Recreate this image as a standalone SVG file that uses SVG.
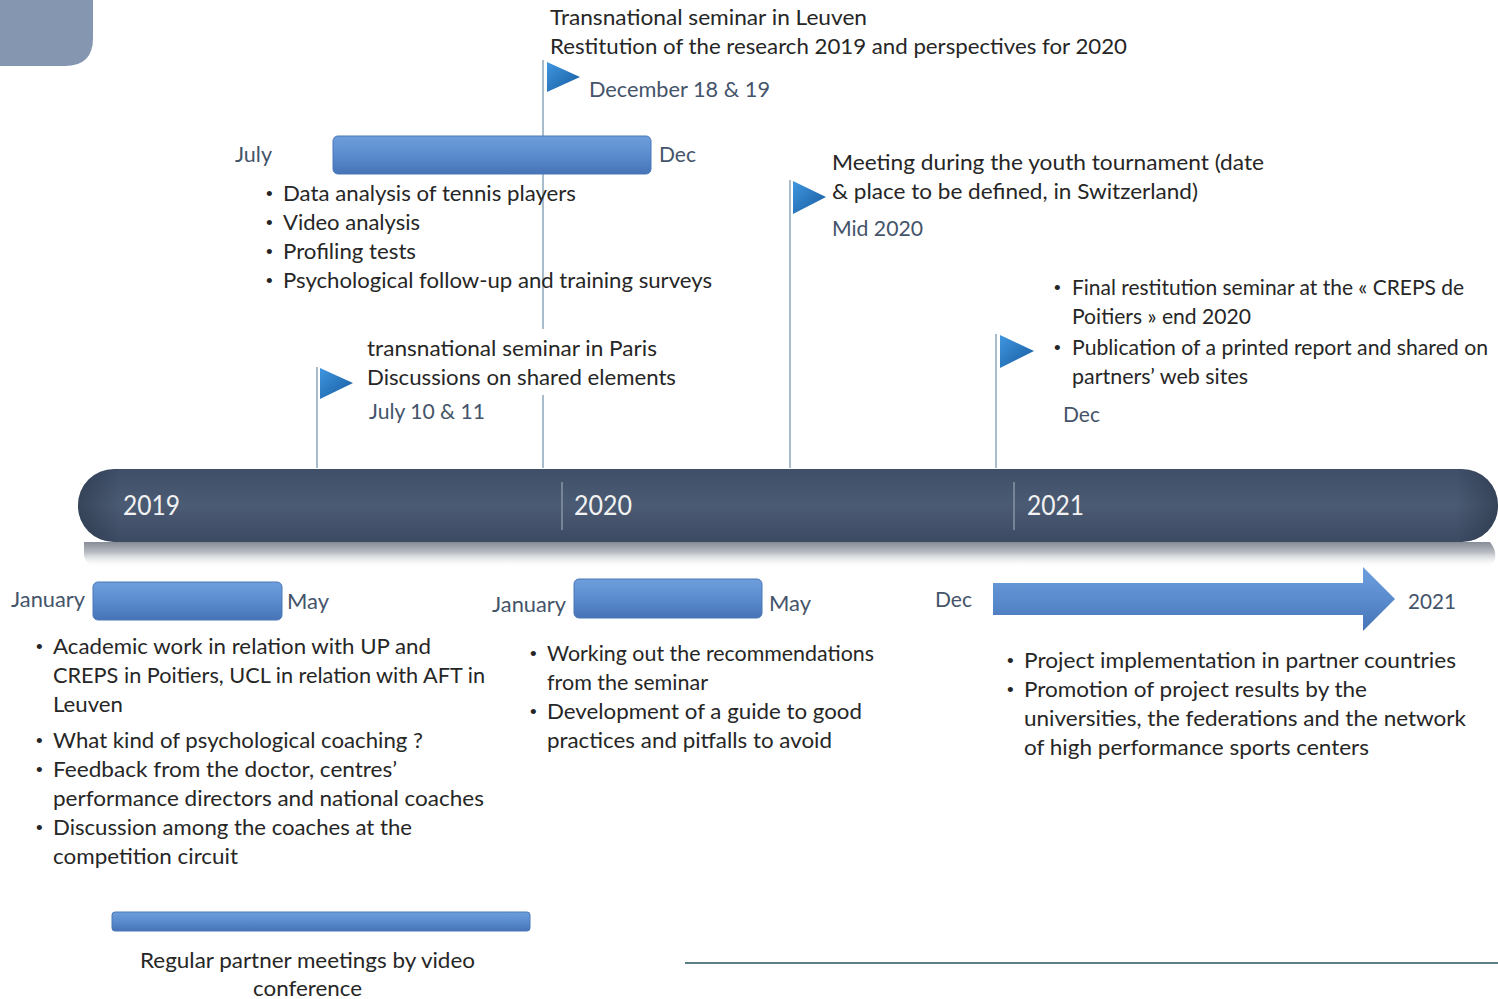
<svg xmlns="http://www.w3.org/2000/svg" width="1498" height="999" viewBox="0 0 1498 999">
<defs>
<linearGradient id="gBar" x1="0" y1="0" x2="0" y2="1">
<stop offset="0" stop-color="#6e9edb"/>
<stop offset="0.5" stop-color="#5a8cce"/>
<stop offset="1" stop-color="#4673b6"/>
</linearGradient>
<linearGradient id="gBand" x1="0" y1="0" x2="0" y2="1">
<stop offset="0" stop-color="#3f4f68"/>
<stop offset="0.5" stop-color="#4b5b73"/>
<stop offset="1" stop-color="#3c4a62"/>
</linearGradient>
<linearGradient id="gBandH" x1="0" y1="0" x2="1" y2="0">
<stop offset="0" stop-color="#1e2a3c" stop-opacity="0.45"/>
<stop offset="0.03" stop-color="#1e2a3c" stop-opacity="0"/>
<stop offset="0.97" stop-color="#1e2a3c" stop-opacity="0"/>
<stop offset="1" stop-color="#1e2a3c" stop-opacity="0.45"/>
</linearGradient>
<linearGradient id="gRefl" x1="0" y1="0" x2="0" y2="1">
<stop offset="0" stop-color="#868c96"/>
<stop offset="0.4" stop-color="#b9bdc3"/>
<stop offset="1" stop-color="#ffffff" stop-opacity="0"/>
</linearGradient>
<linearGradient id="gFlag" x1="0" y1="0" x2="1" y2="1">
<stop offset="0" stop-color="#3f97e0"/>
<stop offset="1" stop-color="#175a9e"/>
</linearGradient>
<style>
.t{font-family:Lato,"Open Sans","Liberation Sans",sans-serif;font-size:21.5px;fill:#262626}
.b{font-family:"Liberation Sans",sans-serif;font-size:19px;fill:#262626}
.d{font-family:Lato,"Open Sans","Liberation Sans",sans-serif;font-size:21.5px;fill:#44546a}
.y{font-family:Lato,"Open Sans","Liberation Sans",sans-serif;font-size:26px;fill:#f2f2f2}
.pole{stroke:#a9bccb;stroke-width:2;fill:none}
.flag{fill:url(#gFlag)}
.bar{fill:url(#gBar);stroke:#4a78b8;stroke-width:1}
.div{stroke:#8894a6;stroke-width:1.5}
</style>
</defs>
<rect width="1498" height="999" fill="#ffffff"/>
<path d="M0 0 H93 V38 Q93 66 65 66 H0 Z" fill="#8496b0"/>

<g id="timeline">
<path d="M84 542 H1490 Q1498 552 1494 562 Q1490 568 1480 568 H100 Q88 568 84 556 Z" fill="url(#gRefl)"/>
<rect x="78" y="469" width="1420" height="73" rx="36" fill="url(#gBand)"/>
<rect x="78" y="469" width="1420" height="73" rx="36" fill="url(#gBandH)"/>
<line class="div" x1="562" y1="482" x2="562" y2="530"/>
<line class="div" x1="1014" y1="482" x2="1014" y2="530"/>
<text class="y" x="123" y="515" textLength="57" lengthAdjust="spacingAndGlyphs">2019</text>
<text class="y" x="574" y="515" textLength="58" lengthAdjust="spacingAndGlyphs">2020</text>
<text class="y" x="1027" y="515" textLength="57" lengthAdjust="spacingAndGlyphs">2021</text>
</g>

<g id="connectors">
<line class="pole" x1="543" y1="60" x2="543" y2="468"/>
<line class="pole" x1="317" y1="367" x2="317" y2="468"/>
<line class="pole" x1="790" y1="180" x2="790" y2="468"/>
<line class="pole" x1="996" y1="334" x2="996" y2="468"/>
</g>

<g id="leuven-seminar">
<polygon class="flag" points="547,62 580,77 547,92"/>
<text class="t" x="550" y="25" textLength="317" lengthAdjust="spacingAndGlyphs">Transnational seminar in Leuven</text>
<text class="t" x="550" y="54" textLength="577" lengthAdjust="spacingAndGlyphs">Restitution of the research 2019 and perspectives for 2020</text>
<text class="d" x="589" y="97" textLength="181" lengthAdjust="spacingAndGlyphs">December 18 &amp; 19</text>
</g>

<g id="july-dec-2019">
<rect class="bar" x="333" y="136" width="318" height="38" rx="5"/>
<text class="d" x="235" y="162" textLength="37" lengthAdjust="spacingAndGlyphs">July</text>
<text class="d" x="659" y="162" textLength="37" lengthAdjust="spacingAndGlyphs">Dec</text>
<text class="b" x="266" y="200">•</text>
<text class="t" x="283" y="201" textLength="293" lengthAdjust="spacingAndGlyphs">Data analysis of tennis players</text>
<text class="b" x="266" y="229">•</text>
<text class="t" x="283" y="230" textLength="137" lengthAdjust="spacingAndGlyphs">Video analysis</text>
<text class="b" x="266" y="258">•</text>
<text class="t" x="283" y="259" textLength="133" lengthAdjust="spacingAndGlyphs">Profiling tests</text>
<text class="b" x="266" y="287">•</text>
<text class="t" x="283" y="288" textLength="429" lengthAdjust="spacingAndGlyphs">Psychological follow-up and training surveys</text>
</g>

<g id="paris-seminar">
<rect x="360" y="329" width="322" height="66" fill="#ffffff"/>
<polygon class="flag" points="320,368 353,383 320,399"/>
<text class="t" x="367" y="356" textLength="290" lengthAdjust="spacingAndGlyphs">transnational seminar in Paris</text>
<text class="t" x="367" y="385" textLength="309" lengthAdjust="spacingAndGlyphs">Discussions on shared elements</text>
<text class="d" x="369" y="419" textLength="116" lengthAdjust="spacingAndGlyphs">July 10 &amp; 11</text>
</g>

<g id="youth-tournament">
<polygon class="flag" points="793,181 826,197 793,214"/>
<text class="t" x="832" y="170" textLength="432" lengthAdjust="spacingAndGlyphs">Meeting during the youth tournament (date</text>
<text class="t" x="832" y="199" textLength="366" lengthAdjust="spacingAndGlyphs">&amp; place to be defined, in Switzerland)</text>
<text class="d" x="832" y="236" textLength="91" lengthAdjust="spacingAndGlyphs">Mid 2020</text>
</g>

<g id="final-seminar">
<polygon class="flag" points="1000,335 1034,351 1000,368"/>
<text class="b" x="1054" y="294">•</text>
<text class="t" x="1072" y="295" textLength="392" lengthAdjust="spacingAndGlyphs">Final restitution seminar at the « CREPS de</text>
<text class="t" x="1072" y="324" textLength="179" lengthAdjust="spacingAndGlyphs">Poitiers » end 2020</text>
<text class="b" x="1054" y="354">•</text>
<text class="t" x="1072" y="355" textLength="416" lengthAdjust="spacingAndGlyphs">Publication of a printed report and shared on</text>
<text class="t" x="1072" y="384" textLength="176" lengthAdjust="spacingAndGlyphs">partners’ web sites</text>
<text class="d" x="1063" y="422" textLength="37" lengthAdjust="spacingAndGlyphs">Dec</text>
</g>

<g id="jan-may-2019">
<rect class="bar" x="93" y="582" width="189" height="38" rx="5"/>
<text class="d" x="11" y="607" textLength="74" lengthAdjust="spacingAndGlyphs">January</text>
<text class="d" x="287" y="609" textLength="42" lengthAdjust="spacingAndGlyphs">May</text>
<text class="b" x="36" y="653">•</text>
<text class="t" x="53" y="654" textLength="378" lengthAdjust="spacingAndGlyphs">Academic work in relation with UP and</text>
<text class="t" x="53" y="683" textLength="432" lengthAdjust="spacingAndGlyphs">CREPS in Poitiers, UCL in relation with AFT in</text>
<text class="t" x="53" y="712" textLength="70" lengthAdjust="spacingAndGlyphs">Leuven</text>
<text class="b" x="36" y="747">•</text>
<text class="t" x="53" y="748" textLength="370" lengthAdjust="spacingAndGlyphs">What kind of psychological coaching ?</text>
<text class="b" x="36" y="776">•</text>
<text class="t" x="53" y="777" textLength="344" lengthAdjust="spacingAndGlyphs">Feedback from the doctor, centres’</text>
<text class="t" x="53" y="806" textLength="431" lengthAdjust="spacingAndGlyphs">performance directors and national coaches</text>
<text class="b" x="36" y="834">•</text>
<text class="t" x="53" y="835" textLength="359" lengthAdjust="spacingAndGlyphs">Discussion among the coaches at the</text>
<text class="t" x="53" y="864" textLength="185" lengthAdjust="spacingAndGlyphs">competition circuit</text>
</g>

<g id="jan-may-2020">
<rect class="bar" x="574" y="579" width="188" height="39" rx="5"/>
<text class="d" x="492" y="612" textLength="74" lengthAdjust="spacingAndGlyphs">January</text>
<text class="d" x="769" y="611" textLength="42" lengthAdjust="spacingAndGlyphs">May</text>
<text class="b" x="530" y="660">•</text>
<text class="t" x="547" y="661" textLength="327" lengthAdjust="spacingAndGlyphs">Working out the recommendations</text>
<text class="t" x="547" y="690" textLength="161" lengthAdjust="spacingAndGlyphs">from the seminar</text>
<text class="b" x="530" y="718">•</text>
<text class="t" x="547" y="719" textLength="315" lengthAdjust="spacingAndGlyphs">Development of a guide to good</text>
<text class="t" x="547" y="748" textLength="285" lengthAdjust="spacingAndGlyphs">practices and pitfalls to avoid</text>
</g>

<g id="dec-2021">
<path d="M993 583 H1363 V567 L1395 599 L1363 631 V615 H993 Z" fill="url(#gBar)"/>
<text class="d" x="935" y="607" textLength="37" lengthAdjust="spacingAndGlyphs">Dec</text>
<text class="d" x="1408" y="609" textLength="48" lengthAdjust="spacingAndGlyphs">2021</text>
<text class="b" x="1007" y="667">•</text>
<text class="t" x="1024" y="668" textLength="432" lengthAdjust="spacingAndGlyphs">Project implementation in partner countries</text>
<text class="b" x="1007" y="696">•</text>
<text class="t" x="1024" y="697" textLength="343" lengthAdjust="spacingAndGlyphs">Promotion of project results by the</text>
<text class="t" x="1024" y="726" textLength="442" lengthAdjust="spacingAndGlyphs">universities, the federations and the network</text>
<text class="t" x="1024" y="755" textLength="345" lengthAdjust="spacingAndGlyphs">of high performance sports centers</text>
</g>

<g id="partner-meetings">
<rect class="bar" x="112" y="912" width="418" height="19" rx="3"/>
<text class="t" x="140" y="968" textLength="335" lengthAdjust="spacingAndGlyphs">Regular partner meetings by video</text>
<text class="t" x="253" y="996" textLength="109" lengthAdjust="spacingAndGlyphs">conference</text>
</g>

<line x1="685" y1="963" x2="1498" y2="963" stroke="#5f7f86" stroke-width="2"/>
</svg>
